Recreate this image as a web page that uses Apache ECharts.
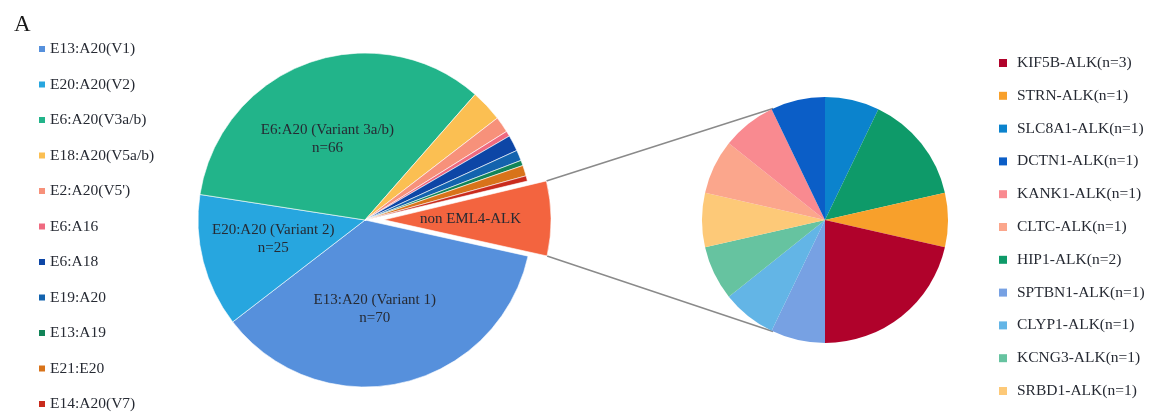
<!DOCTYPE html>
<html>
<head>
<meta charset="utf-8">
<title>ALK fusion variants</title>
<script src="https://cdn.jsdelivr.net/npm/echarts@6/dist/echarts.min.js"></script>
<style>
  html, body { margin: 0; padding: 0; background: #ffffff; }
  #chart { width: 1164px; height: 414px; }
</style>
</head>
<body>
<div id="chart"></div>
<script>
// EML4-ALK variants (main pie, drawn clockwise from just below 3 o'clock)
const variantNames = [
  'E13:A20(V1)', 'E20:A20(V2)', 'E6:A20(V3a/b)', 'E18:A20(V5a/b)', "E2:A20(V5')",
  'E6:A16', 'E6:A18', 'E19:A20', 'E13:A19', 'E21:E20', 'E14:A20(V7)'
];
const variantCounts = [70, 25, 66, 6, 3, 1, 3, 2, 1, 2, 1];
const variantSliceText = [
  'E13:A20 (Variant 1)', 'E20:A20 (Variant 2)', 'E6:A20 (Variant 3a/b)',
  '', '', '', '', '', '', '', ''
];
const variantColors = [
  '#5690dc', '#27a6df', '#22b48a', '#fbbf52', '#f7917a',
  '#ef6a80', '#0d46a6', '#1363ae', '#128458', '#d8731a', '#c92b1d'
];

// the grouped remainder, broken out in the secondary pie
const otherName = 'non EML4-ALK';
const otherColor = '#f3643f';

// non-EML4 partners (secondary pie, clockwise from 12 o'clock)
const partnerNames = [
  'SLC8A1-ALK', 'HIP1-ALK', 'STRN-ALK', 'KIF5B-ALK', 'SPTBN1-ALK', 'CLYP1-ALK',
  'KCNG3-ALK', 'SRBD1-ALK', 'CLTC-ALK', 'KANK1-ALK', 'DCTN1-ALK'
];
const partnerCounts = [1, 2, 1, 3, 1, 1, 1, 1, 1, 1, 1];
const partnerColors = [
  '#0b83cd', '#0e9a69', '#f8a02b', '#b0022b', '#77a1e3', '#63b5e6',
  '#66c3a0', '#fdc978', '#fba68c', '#f98a90', '#0b5ec7'
];
// order of the partner legend
const partnerLegendOrder = [
  'KIF5B-ALK', 'STRN-ALK', 'SLC8A1-ALK', 'DCTN1-ALK', 'KANK1-ALK', 'CLTC-ALK',
  'HIP1-ALK', 'SPTBN1-ALK', 'CLYP1-ALK', 'KCNG3-ALK', 'SRBD1-ALK'
];

const SERIF = '"Liberation Serif", "DejaVu Serif", "Times New Roman", serif';
const TEXT = '#262a33';
const EXPLODE = 19;

const otherCount = partnerCounts.reduce((a, b) => a + b, 0);

// nudges for the in-slice captions
const sliceLabelOffsets = {
  'E13:A20(V1)': [-9, 5],
  'E20:A20(V2)': [-8, -2],
  'E6:A20(V3a/b)': [-8, 0]
};

const mainData = variantNames.map((name, i) => {
  const item = { name, value: variantCounts[i], itemStyle: { color: variantColors[i] } };
  if (variantSliceText[i]) {
    item.label = {
      show: true,
      formatter: variantSliceText[i] + '\nn=' + variantCounts[i],
      offset: sliceLabelOffsets[name] || [0, 0]
    };
  }
  return item;
});
mainData.push({
  name: otherName,
  value: otherCount,
  selected: true,
  itemStyle: { color: otherColor },
  label: { show: true, formatter: otherName, offset: [4, 3] }
});

const partnerCountByName = {};
partnerNames.forEach((n, i) => { partnerCountByName[n] = partnerCounts[i]; });

const partnerData = partnerNames.map((name, i) => ({
  name, value: partnerCounts[i], itemStyle: { color: partnerColors[i] }
}));

const chart = echarts.init(document.getElementById('chart'), null, { renderer: 'canvas' });

const option = {
  animation: false,
  backgroundColor: '#ffffff',
  title: {
    text: 'A',
    left: 9,
    top: 8,
    textStyle: { fontFamily: SERIF, fontSize: 23, fontWeight: 'normal', color: '#1a1a1a' }
  },
  legend: [
    {
      orient: 'vertical',
      left: 32,
      top: 36,
      height: 380,
      itemWidth: 8,
      itemHeight: 8,
      itemGap: 19.5,
      icon: 'rect',
      data: variantNames,
      selectedMode: false,
      textStyle: { fontFamily: SERIF, fontSize: 15.5, color: TEXT, lineHeight: 16, padding: [0, 0, 0, -1] }
    },
    {
      orient: 'vertical',
      left: 994,
      top: 50,
      height: 370,
      itemWidth: 8,
      itemHeight: 8,
      itemGap: 16.8,
      icon: 'rect',
      data: partnerLegendOrder,
      selectedMode: false,
      formatter: name => name + '(n=' + partnerCountByName[name] + ')',
      textStyle: { fontFamily: SERIF, fontSize: 15.5, color: TEXT, lineHeight: 16, padding: [0, 0, 0, 5] }
    }
  ],
  series: [
    {
      type: 'pie',
      center: [365, 220],
      radius: [0, 167],
      startAngle: -12.5,
      clockwise: true,
      selectedMode: 'single',
      selectedOffset: EXPLODE,
      avoidLabelOverlap: false,
      silent: true,
      itemStyle: { borderColor: '#ffffff', borderWidth: 0.6 },
      label: {
        show: false,
        position: 'inside',
        fontFamily: SERIF,
        fontSize: 15,
        lineHeight: 18,
        color: TEXT
      },
      labelLine: { show: false },
      emphasis: { disabled: true },
      data: mainData
    },
    {
      type: 'pie',
      center: [825, 220],
      radius: [0, 123],
      startAngle: 90,
      clockwise: true,
      silent: true,
      label: { show: false },
      labelLine: { show: false },
      emphasis: { disabled: true },
      data: partnerData
    }
  ]
};

chart.setOption(option);

// Connector lines from the exploded slice to the secondary pie,
// derived from the laid-out slice geometry.
function drawConnectors() {
  const mainSeries = chart.getModel().getSeriesByIndex(0).getData();
  const subSeries = chart.getModel().getSeriesByIndex(1).getData();
  const idx = mainSeries.count() - 1;
  const lay = mainSeries.getItemLayout(idx);
  const sub = subSeries.getItemLayout(0);
  const mid = (lay.startAngle + lay.endAngle) / 2;
  const ox = lay.cx + EXPLODE * Math.cos(mid);
  const oy = lay.cy + EXPLODE * Math.sin(mid);
  const a1 = Math.min(lay.startAngle, lay.endAngle);
  const a2 = Math.max(lay.startAngle, lay.endAngle);
  const p1 = [ox + lay.r * Math.cos(a1), oy + lay.r * Math.sin(a1)];
  const p2 = [ox + lay.r * Math.cos(a2), oy + lay.r * Math.sin(a2)];
  // meeting points on the secondary pie, symmetric about its horizontal axis
  const spread = 65 * Math.PI / 180;
  const q1 = [sub.cx - sub.r * Math.cos(spread), sub.cy - sub.r * Math.sin(spread)];
  const q2 = [sub.cx - sub.r * Math.cos(spread), sub.cy + sub.r * Math.sin(spread)];
  const lineStyle = { stroke: '#8a8a8a', lineWidth: 1.5 };
  chart.setOption({
    graphic: [
      { type: 'line', z: -1, shape: { x1: p1[0], y1: p1[1], x2: q1[0], y2: q1[1] }, style: lineStyle, silent: true },
      { type: 'line', z: -1, shape: { x1: p2[0], y1: p2[1], x2: q2[0], y2: q2[1] }, style: lineStyle, silent: true }
    ]
  });
}
drawConnectors();
</script>
</body>
</html>
